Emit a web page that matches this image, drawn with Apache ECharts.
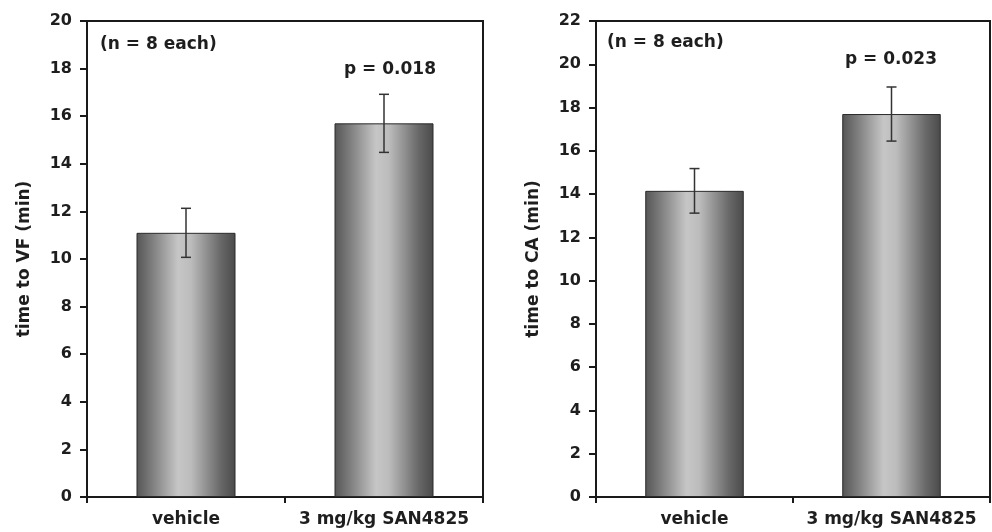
<!DOCTYPE html>
<html>
<head>
<meta charset="utf-8">
<script src="https://cdn.jsdelivr.net/npm/echarts@6/dist/echarts.min.js"></script>
<style>html,body{margin:0;padding:0;background:#fff;}#c{width:992px;height:532px;}</style>
</head>
<body>
<div id="c"></div>
<script>
const categories = ['vehicle', '3 mg/kg SAN4825'];
const vfMeans = [11.1, 15.7];
const vfErr = [1.03, 1.22];
const caMeans = [14.15, 17.7];
const caErr = [1.03, 1.25];
const vfAxis = { min: 0, max: 20, interval: 2, title: 'time to VF (min)', p: 'p = 0.018' };
const caAxis = { min: 0, max: 22, interval: 2, title: 'time to CA (min)', p: 'p = 0.023' };
const nText = '(n = 8 each)';

const FONT = 'DejaVu Sans';
const TXT = '#1e1e1e';

const barGrad = {
  type: 'linear', x: 0, y: 0, x2: 1, y2: 0,
  colorStops: [
    { offset: 0, color: '#555555' },
    { offset: 0.15, color: '#7c7c7c' },
    { offset: 0.42, color: '#c6c6c6' },
    { offset: 0.55, color: '#bcbcbc' },
    { offset: 0.85, color: '#686868' },
    { offset: 1, color: '#4a4a4a' }
  ]
};

function errRender(params, api) {
  const x = api.value(0), m = api.value(1), e = api.value(2);
  const t = api.coord([x, m + e]);
  const b = api.coord([x, m - e]);
  const hw = 5;
  const st = { stroke: '#333', lineWidth: 1.5 };
  return {
    type: 'group',
    children: [
      { type: 'line', shape: { x1: t[0], y1: t[1], x2: b[0], y2: b[1] }, style: st },
      { type: 'line', shape: { x1: t[0] - hw, y1: t[1], x2: t[0] + hw, y2: t[1] }, style: st },
      { type: 'line', shape: { x1: b[0] - hw, y1: b[1], x2: b[0] + hw, y2: b[1] }, style: st }
    ]
  };
}

const grids = [
  { left: 87, top: 21, width: 396, bottom: 35 },
  { left: 596, top: 21, width: 394, bottom: 35 }
];
const axes = [vfAxis, caAxis];
const means = [vfMeans, caMeans];
const errs = [vfErr, caErr];

const option = {
  animation: false,
  backgroundColor: '#fff',
  grid: grids.map(g => Object.assign({ show: true, borderColor: '#1a1a1a', borderWidth: 2, backgroundColor: 'transparent' }, g)),
  xAxis: grids.map((g, i) => ({
    type: 'category', gridIndex: i, data: categories,
    axisLine: { lineStyle: { color: '#1a1a1a', width: 2 } },
    axisTick: { show: true, length: 6, lineStyle: { color: '#1a1a1a', width: 2 } },
    axisLabel: { interval: 0, hideOverlap: false, color: TXT, fontFamily: FONT, fontWeight: 'bold', fontSize: 17, margin: 14 }
  })),
  yAxis: axes.map((a, i) => ({
    type: 'value', gridIndex: i, min: a.min, max: a.max, interval: a.interval,
    name: a.title, nameLocation: 'middle', nameGap: 54, nameRotate: 90,
    nameTextStyle: { color: TXT, fontFamily: FONT, fontWeight: 'bold', fontSize: 17 },
    splitLine: { show: false },
    axisLine: { show: true, lineStyle: { color: '#1a1a1a', width: 2 } },
    axisTick: { show: true, length: 7, lineStyle: { color: '#1a1a1a', width: 2 } },
    axisLabel: { color: TXT, fontFamily: FONT, fontWeight: 'bold', fontSize: 16, margin: 15 }
  })),
  series: [
    ...means.map((m, i) => ({
      type: 'bar', xAxisIndex: i, yAxisIndex: i, data: m, barWidth: '50%',
      itemStyle: { color: barGrad, borderColor: '#2a2a2a', borderWidth: 1 }
    })),
    ...means.map((m, i) => ({
      type: 'custom', xAxisIndex: i, yAxisIndex: i, z: 5,
      renderItem: errRender,
      encode: { x: 0, y: 1 },
      data: m.map((v, k) => [k, v, errs[i][k]])
    }))
  ],
  graphic: [
    { type: 'text', left: 100, top: 36, style: { text: nText, fill: TXT, font: 'bold 17px "' + FONT + '"' } },
    { type: 'text', left: 607, top: 34, style: { text: nText, fill: TXT, font: 'bold 17px "' + FONT + '"' } },
    { type: 'text', x: 390, y: 70, style: { text: vfAxis.p, fill: TXT, font: 'bold 17px "' + FONT + '"', align: 'center', verticalAlign: 'middle' } },
    { type: 'text', x: 891, y: 60, style: { text: caAxis.p, fill: TXT, font: 'bold 17px "' + FONT + '"', align: 'center', verticalAlign: 'middle' } }
  ]
};

const chart = echarts.init(document.getElementById('c'), null, { renderer: 'canvas' });
chart.setOption(option);
</script>
</body>
</html>
